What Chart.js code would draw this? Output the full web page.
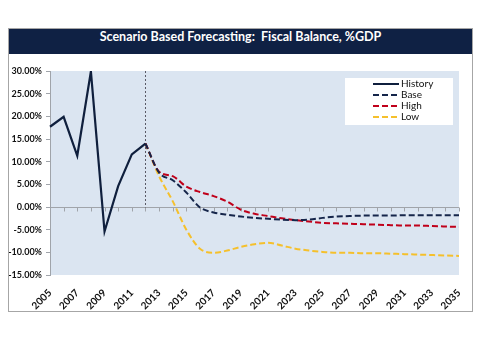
<!DOCTYPE html>
<html>
<head>
<meta charset="utf-8">
<script src="https://cdn.jsdelivr.net/npm/chart.js@4.4.1/dist/chart.umd.min.js"></script>
<style>
    body { margin: 0; background: #fff; }
    #frame {
        position: absolute; left: 8px; top: 28px;
        width: 463px; border: 1px solid #a6a6a6; background: #fff;
    }
    #title {
        height: 25px; line-height: 25px; background: #0f2144; color: #fff;
        font: bold 12.5px Lato, sans-serif; text-align: center; white-space: pre;
    }
    canvas { display: block; }
</style>
</head>
<body>
<div id="frame">
    <div id="title">Scenario Based Forecasting:  Fiscal Balance, %GDP</div>
    <canvas id="fcChart" width="463" height="257"></canvas>
</div>
<script>
// years on the category axis
const years = ["2005", "2006", "2007", "2008", "2009", "2010", "2011", "2012", "2013", "2014",
    "2015", "2016", "2017", "2018", "2019", "2020", "2021", "2022", "2023", "2024",
    "2025", "2026", "2027", "2028", "2029", "2030", "2031", "2032", "2033", "2034", "2035"];

// actuals 2005..2012
const history = [17.7, 19.9, 11.3, 29.9, -5.4, 4.6, 11.6, 14.0];

// scenarios 2012..2035
const base = [14.0, 7.6, 5.9, 3.2, -0.1, -1.2, -1.7, -2.1, -2.4, -2.6, -2.8, -2.9,
    -2.8, -2.4, -2.1, -2.0, -1.9, -1.9, -1.9, -1.8, -1.8, -1.8, -1.8, -1.8];
const high = [14.0, 7.8, 6.8, 4.5, 3.3, 2.4, 1.2, -0.6, -1.5, -2.0, -2.5, -2.9,
    -3.2, -3.5, -3.6, -3.7, -3.8, -3.9, -4.0, -4.1, -4.1, -4.2, -4.3, -4.4];
const low = [14.0, 6.8, 1.3, -5.0, -9.2, -10.1, -9.6, -8.8, -8.2, -7.9, -8.5, -9.2,
    -9.6, -9.9, -10.1, -10.1, -10.2, -10.2, -10.3, -10.4, -10.5, -10.6, -10.7, -10.8];

const forecastStart = "2012";
const yTicks = [30, 25, 20, 15, 10, 5, 0, -5, -10, -15];

const startIdx = years.indexOf(forecastStart);
const pad = (arr, offset) => years.map((y, i) => (i >= offset && i - offset < arr.length) ? arr[i - offset] : null);

// plot background, zero line with tick marks, the 2012 divider
const plotDecor = {
    id: "plotDecor",
    beforeDraw(chart) {
        const { ctx, chartArea: a } = chart;
        ctx.save();
        ctx.fillStyle = "#dbe5f1";
        ctx.fillRect(a.left, a.top, a.right - a.left, a.bottom - a.top);
        ctx.restore();
    },
    beforeDatasetsDraw(chart) {
        const { ctx, chartArea: a, scales } = chart;
        const y0 = Math.round(scales.y.getPixelForValue(0)) + 0.5;
        ctx.save();
        ctx.strokeStyle = "#a0a4aa";
        ctx.lineWidth = 1;
        ctx.beginPath();
        ctx.moveTo(a.left, y0);
        ctx.lineTo(a.right, y0);
        years.forEach((yr, i) => {
            const x = Math.round(scales.x.getPixelForValue(i)) + 0.5;
            ctx.moveTo(x, y0);
            ctx.lineTo(x, y0 + 4);
        });
        ctx.stroke();

        const xs = Math.round(scales.x.getPixelForValue(startIdx)) + 0.5;
        ctx.strokeStyle = "#5a5a66";
        ctx.setLineDash([2, 2]);
        ctx.beginPath();
        ctx.moveTo(xs, a.top);
        ctx.lineTo(xs, y0);
        ctx.stroke();
        ctx.restore();
    }
};

// boxed legend in the top right corner of the plot
const boxLegend = {
    id: "boxLegend",
    afterDraw(chart) {
        const { ctx, chartArea: a } = chart;
        const left = a.right - 114, top = a.top + 7;
        ctx.save();
        ctx.fillStyle = "#ffffff";
        ctx.fillRect(left, top, 108, 47);
        ctx.font = "10px Lato, sans-serif";
        ctx.textBaseline = "middle";
        chart.data.datasets.forEach((ds, i) => {
            const y = top + 6 + i * 11;
            ctx.strokeStyle = ds.borderColor;
            ctx.lineWidth = 2;
            ctx.setLineDash(ds.borderDash || []);
            ctx.beginPath();
            ctx.moveTo(left + 28, y);
            ctx.lineTo(left + 54, y);
            ctx.stroke();
            ctx.fillStyle = "#111";
            ctx.fillText(ds.label, left + 56, y);
        });
        ctx.restore();
    }
};

new Chart(document.getElementById("fcChart"), {
    type: "line",
    data: {
        labels: years,
        datasets: [
            {
                label: "History",
                data: pad(history, 0),
                borderColor: "#0f1f3d",
                borderWidth: 2.2,
                tension: 0,
                pointRadius: 0
            },
            {
                label: "Base",
                data: pad(base, startIdx),
                borderColor: "#15254a",
                borderWidth: 2,
                borderDash: [6, 3],
                cubicInterpolationMode: "monotone",
                pointRadius: 0
            },
            {
                label: "High",
                data: pad(high, startIdx),
                borderColor: "#c0001a",
                borderWidth: 2,
                borderDash: [6, 3],
                cubicInterpolationMode: "monotone",
                pointRadius: 0
            },
            {
                label: "Low",
                data: pad(low, startIdx),
                borderColor: "#f5c02c",
                borderWidth: 2,
                borderDash: [6, 3],
                cubicInterpolationMode: "monotone",
                pointRadius: 0
            }
        ]
    },
    options: {
        responsive: false,
        animation: false,
        layout: { padding: { top: 17, right: 13, left: 0, bottom: 0 } },
        plugins: {
            legend: { display: false },
            tooltip: { enabled: false }
        },
        scales: {
            x: {
                offset: false,
                grid: { display: false },
                border: { display: false },
                ticks: {
                    autoSkip: false,
                    maxRotation: 45,
                    minRotation: 45,
                    padding: 4,
                    color: "#111",
                    font: { family: "Lato, sans-serif", size: 10, weight: "bold" },
                    callback: (v, i) => (i % 2 === 0 ? years[i] : "")
                },
                afterFit: (s) => { s.height = 36; }
            },
            y: {
                min: -15,
                max: 30,
                afterBuildTicks: (s) => { s.ticks = yTicks.map(v => ({ value: v })); },
                grid: { drawOnChartArea: false, tickLength: 4, tickColor: "#a0a4aa" },
                border: { color: "#a0a4aa" },
                ticks: {
                    padding: 4,
                    color: "#111",
                    font: { family: "Lato, sans-serif", size: 9, weight: "bold" },
                    callback: (v) => v.toFixed(2) + "%"
                },
                afterFit: (s) => { s.width = 41; }
            }
        }
    },
    plugins: [plotDecor, boxLegend]
});
</script>
</body>
</html>
